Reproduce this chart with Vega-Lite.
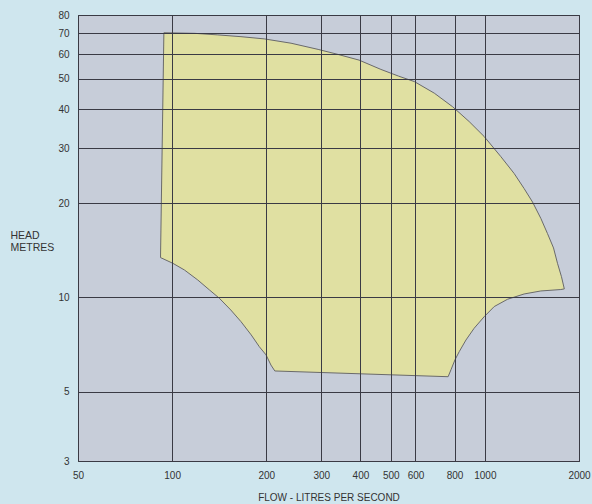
{
  "$schema": "https://vega.github.io/schema/vega-lite/v6.json",
  "width": 501,
  "height": 446,
  "autosize": "none",
  "padding": {"left": 78, "top": 15, "right": 13, "bottom": 43},
  "background": "#cfe6ee",
  "view": {"fill": "#c7cdd9", "stroke": "#333333", "strokeWidth": 1},
  "data": {
    "values": [
      {"i": 1, "flow": 94.1, "head": 70.2},
      {"i": 2, "flow": 118, "head": 69.9},
      {"i": 3, "flow": 140, "head": 69.1},
      {"i": 4, "flow": 166, "head": 68.2},
      {"i": 5, "flow": 197, "head": 67.1},
      {"i": 6, "flow": 240, "head": 65.0},
      {"i": 7, "flow": 293, "head": 62.1},
      {"i": 8, "flow": 338, "head": 59.9},
      {"i": 9, "flow": 396, "head": 57.4},
      {"i": 10, "flow": 465, "head": 53.6},
      {"i": 11, "flow": 530, "head": 51.0},
      {"i": 12, "flow": 595, "head": 49.0},
      {"i": 13, "flow": 689, "head": 45.0},
      {"i": 14, "flow": 789, "head": 40.7},
      {"i": 15, "flow": 891, "head": 36.5},
      {"i": 16, "flow": 995, "head": 32.7},
      {"i": 17, "flow": 1125, "head": 28.2},
      {"i": 18, "flow": 1241, "head": 24.9},
      {"i": 19, "flow": 1335, "head": 22.3},
      {"i": 20, "flow": 1420, "head": 20.2},
      {"i": 21, "flow": 1510, "head": 17.9},
      {"i": 22, "flow": 1586, "head": 16.0},
      {"i": 23, "flow": 1658, "head": 14.4},
      {"i": 24, "flow": 1707, "head": 12.86},
      {"i": 25, "flow": 1758, "head": 11.65},
      {"i": 26, "flow": 1795, "head": 10.65},
      {"i": 27, "flow": 1749, "head": 10.6},
      {"i": 28, "flow": 1510, "head": 10.49},
      {"i": 29, "flow": 1335, "head": 10.26},
      {"i": 30, "flow": 1182, "head": 9.87},
      {"i": 31, "flow": 1071, "head": 9.35},
      {"i": 32, "flow": 995, "head": 8.68},
      {"i": 33, "flow": 924, "head": 7.97},
      {"i": 34, "flow": 870, "head": 7.31},
      {"i": 35, "flow": 828, "head": 6.71},
      {"i": 36, "flow": 802, "head": 6.31},
      {"i": 37, "flow": 779, "head": 5.87},
      {"i": 38, "flow": 763, "head": 5.58},
      {"i": 39, "flow": 213, "head": 5.82},
      {"i": 40, "flow": 207, "head": 6.08},
      {"i": 41, "flow": 199.7, "head": 6.55},
      {"i": 42, "flow": 190, "head": 6.96},
      {"i": 43, "flow": 179, "head": 7.59},
      {"i": 44, "flow": 166, "head": 8.37},
      {"i": 45, "flow": 154, "head": 9.12},
      {"i": 46, "flow": 141.6, "head": 9.94},
      {"i": 47, "flow": 131.6, "head": 10.57},
      {"i": 48, "flow": 120.8, "head": 11.37},
      {"i": 49, "flow": 109.5, "head": 12.24},
      {"i": 50, "flow": 100.5, "head": 12.86},
      {"i": 51, "flow": 91.8, "head": 13.41},
      {"i": 52, "flow": 94.1, "head": 70.2}
    ]
  },
  "mark": {"type": "line", "fill": "#e0e0a2", "stroke": "#6a6a6a", "strokeWidth": 1, "interpolate": "linear"},
  "encoding": {
    "order": {"field": "i", "type": "quantitative"},
    "x": {
      "field": "flow",
      "type": "quantitative",
      "scale": {"type": "log", "domain": [50, 2000], "nice": false},
      "axis": {
        "values": [50, 100, 200, 300, 400, 500, 600, 800, 1000, 2000],
        "format": "d",
        "title": "FLOW - LITRES PER SECOND",
        "titleFont": "Liberation Sans",
        "titleFontSize": 10,
        "titleFontWeight": "normal",
        "titleColor": "#333333",
        "titlePadding": 12,
        "labelFont": "Liberation Sans",
        "labelFontSize": 10,
        "labelColor": "#333333",
        "labelPadding": 9,
        "labelFlush": false,
        "ticks": false,
        "domain": false,
        "grid": true,
        "gridColor": "#3a3a44",
        "gridWidth": 1,
        "gridOpacity": 1,
        "zindex": 1
      }
    },
    "y": {
      "field": "head",
      "type": "quantitative",
      "scale": {"type": "log", "domain": [3, 80], "nice": false},
      "axis": {
        "values": [3, 5, 10, 20, 30, 40, 50, 60, 70, 80],
        "format": "d",
        "title": ["HEAD", "METRES"],
        "titleAngle": 0,
        "titleAlign": "left",
        "titleBaseline": "top",
        "titleX": -68,
        "titleY": 215,
        "titleLineHeight": 12.5,
        "titleFont": "Liberation Sans",
        "titleFontSize": 10.5,
        "titleFontWeight": "normal",
        "titleColor": "#333333",
        "labelFont": "Liberation Sans",
        "labelFontSize": 10,
        "labelColor": "#333333",
        "labelPadding": 9,
        "labelFlush": false,
        "ticks": false,
        "domain": false,
        "grid": true,
        "gridColor": "#3a3a44",
        "gridWidth": 1,
        "gridOpacity": 1,
        "zindex": 1
      }
    }
  }
}
